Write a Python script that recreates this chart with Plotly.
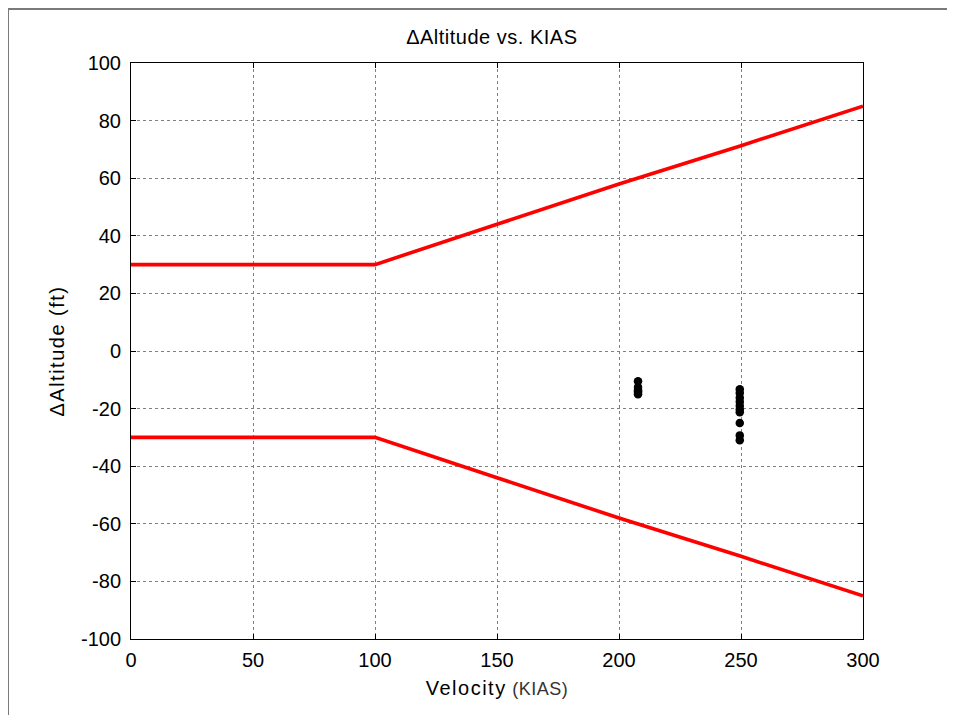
import plotly.graph_objects as go

# Envelope lines
velocity = [0, 100, 150, 200, 250, 300]
upper_limit = [30, 30, 44, 58, 71.3, 85]
lower_limit = [-30, -30, -44, -58, -71.3, -85]

# Measured points
pts_kias = [207.8]*6 + [249.5]*10
pts_dalt = [-10.5, -12.5, -13.5, -14.0, -14.5, -15.0,
            -13.3, -14.6, -16.2, -17.6, -19.0, -20.3, -21.3, -25.0, -29.3, -31.0]

x_ticks = [0, 50, 100, 150, 200, 250, 300]
y_ticks = [-100, -80, -60, -40, -20, 0, 20, 40, 60, 80, 100]

FONT = "Liberation Sans, Arial, Helvetica"

fig = go.Figure()
fig.add_trace(go.Scatter(x=velocity, y=upper_limit, mode="lines",
                         line=dict(color="#ff0000", width=3.6), showlegend=False))
fig.add_trace(go.Scatter(x=velocity, y=lower_limit, mode="lines",
                         line=dict(color="#ff0000", width=3.6), showlegend=False))
fig.add_trace(go.Scatter(x=pts_kias, y=pts_dalt, mode="markers",
                         marker=dict(color="black", size=8.5), showlegend=False))

# page body has an 8px margin, so the figure starts at (8, 8)
OFF = 8
W, H = 955 - OFF, 715 - OFF
ml, mr, mt, mb = 131 - OFF, 92, 63 - OFF, 76
pw, ph = W - ml - mr, H - mt - mb

def px(x):
    return (x - OFF - ml) / pw

def py(y):
    return (H - mb - (y - OFF)) / ph

fig.add_shape(type="rect", xref="paper", yref="paper",
              x0=px(8), x1=px(951), y0=py(740), y1=py(9),
              line=dict(color="#7a7a7a", width=2), layer="below")

axis_common = dict(showline=True, linecolor="black", linewidth=1, mirror="ticks",
                   ticks="inside", ticklen=5, tickcolor="black",
                   showgrid=True, gridcolor="#808080", griddash="dot", gridwidth=1,
                   zeroline=False,
                   tickfont=dict(family=FONT, size=20, color="black"))

fig.update_layout(
    width=W, height=H,
    margin=dict(l=ml, r=mr, t=mt, b=mb),
    paper_bgcolor="white", plot_bgcolor="white",
    title=dict(text="<span style='letter-spacing:0.5px'>ΔAltitude vs. KIAS</span>",
               x=px(505), xanchor="center",
               y=1 - (37 - OFF) / H, yanchor="middle",
               font=dict(family=FONT, size=20, color="black")),
    xaxis=dict(range=[0, 300], tickvals=x_ticks, ticktext=[str(v) for v in x_ticks],
               ticklabelstandoff=3,
               title=dict(text="<span style='letter-spacing:1.5px'>Velocity</span> "
                               "<span style='font-size:18px;color:#333;letter-spacing:0.5px'>(KIAS)</span>",
                          standoff=10,
                          font=dict(family=FONT, size=20, color="black")),
               **axis_common),
    yaxis=dict(range=[-100, 100], tickvals=y_ticks, ticktext=[str(v) for v in y_ticks],
               ticklabelstandoff=5,
               title=dict(text="<span style='letter-spacing:1.5px'>ΔAltitude (ft)</span>", standoff=10,
                          font=dict(family=FONT, size=20, color="black")),
               **axis_common),
)

fig.write_html("out.html")
